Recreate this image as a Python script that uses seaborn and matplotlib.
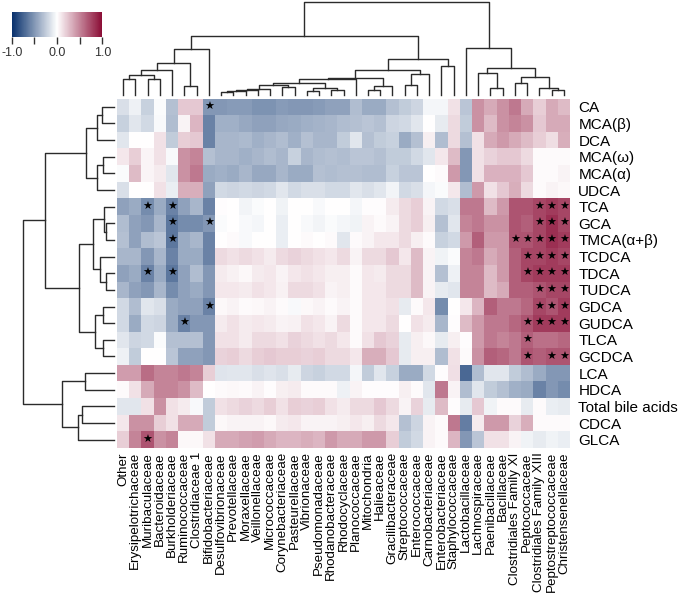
import numpy as np
import pandas as pd
import matplotlib
matplotlib.use("Agg")
import matplotlib.pyplot as plt
import seaborn as sns
from matplotlib.colors import LinearSegmentedColormap

plt.rcParams['font.family'] = ['Liberation Sans', 'DejaVu Sans']
plt.rcParams['axes.unicode_minus'] = False

# column order as shown (left -> right)
families = ["Other", "Erysipelotrichaceae", "Muribaculaceae", "Bacteroidaceae",
            "Burkholderiaceae", "Ruminococcaceae", "Clostridiaceae 1", "Bifidobacteriaceae",
            "Desulfovibrionaceae", "Prevotellaceae", "Moraxellaceae", "Veillonellaceae",
            "Micrococcaceae", "Corynebacteriaceae", "Pasteurellaceae", "Vibrionaceae",
            "Pseudomonadaceae", "Rhodanobacteraceae", "Rhodocyclaceae", "Planococcaceae",
            "Mitochondria", "Halieaceae", "Gracilibacteraceae", "Streptococcaceae",
            "Enterococcaceae", "Carnobacteriaceae", "Enterobacteriaceae", "Staphylococcaceae",
            "Lactobacillaceae", "Lachnospiraceae", "Paenibacillaceae", "Bacillaceae",
            "Clostridiales Family XI", "Peptococcaceae", "Clostridiales Family XIII",
            "Peptostreptococcaceae", "Christensenellaceae"]

# row order as shown (top -> bottom)
bile_acids = ["CA", "MCA(β)", "DCA", "MCA(ω)", "MCA(α)", "UDCA", "TCA", "GCA",
              "TMCA(α+β)", "TCDCA", "TDCA", "TUDCA", "GDCA", "GUDCA", "TLCA", "GCDCA",
              "LCA", "HDCA", "Total bile acids", "CDCA", "GLCA"]

# correlation coefficients, one list per bile acid
r_ca = [-0.15, -0.07, -0.22, -0.02, -0.3, 0.22, 0.22, -0.5,
        -0.5, -0.48, -0.48, -0.52, -0.52, -0.48, -0.5, -0.5, -0.48, -0.45,
        -0.45, -0.32, -0.4, -0.4, -0.3, -0.25, -0.2, -0.04, -0.04, 0.12,
        -0.28, 0.45, 0.35, 0.45, 0.55, 0.35, 0.2, 0.35, 0.28]
r_mca_b = [-0.22, -0.12, -0.18, -0.03, -0.32, 0.05, 0.3, -0.6,
           -0.38, -0.38, -0.42, -0.45, -0.45, -0.42, -0.4, -0.38, -0.36, -0.35,
           -0.32, -0.3, -0.28, -0.3, -0.2, -0.18, -0.12, 0.0, -0.1, 0.15,
           -0.25, 0.45, 0.28, 0.45, 0.5, 0.45, 0.22, 0.35, 0.35]
r_dca = [-0.12, 0.0, 0.0, 0.12, -0.25, 0.2, 0.22, -0.6,
         -0.35, -0.35, -0.33, -0.38, -0.35, -0.32, -0.38, -0.3, -0.35, -0.35,
         -0.25, -0.12, -0.3, -0.25, -0.22, -0.4, -0.3, 0.07, -0.32, 0.15,
         -0.3, 0.12, 0.35, 0.42, 0.35, 0.28, 0.2, 0.14, 0.33]
r_mca_w = [0.1, 0.2, 0.04, 0.12, -0.03, 0.45, 0.5, -0.3,
           -0.35, -0.35, -0.38, -0.35, -0.32, -0.35, -0.22, -0.35, -0.32, -0.3,
           -0.32, -0.28, -0.28, -0.3, -0.25, -0.25, -0.18, -0.12, 0.1, 0.28,
           -0.5, 0.12, 0.18, 0.22, 0.22, 0.15, 0.02, 0.02, 0.02]
r_mca_a = [-0.02, 0.28, 0.04, 0.08, -0.12, 0.45, 0.55, -0.4,
           -0.38, -0.4, -0.35, -0.42, -0.42, -0.35, -0.4, -0.4, -0.3, -0.32,
           -0.3, -0.3, -0.32, -0.32, -0.22, -0.28, -0.28, 0.0, 0.02, 0.42,
           -0.5, 0.12, 0.32, 0.32, 0.32, 0.22, 0.02, 0.02, 0.05]
r_udca = [-0.15, 0.0, 0.0, 0.12, -0.08, 0.33, 0.33, -0.45,
          -0.18, -0.2, -0.18, -0.2, -0.18, -0.12, -0.18, -0.15, -0.15, -0.18,
          -0.18, -0.12, -0.15, -0.12, -0.05, -0.18, -0.15, -0.04, -0.02, 0.1,
          -0.32, 0.42, 0.12, 0.22, 0.33, 0.15, 0.02, 0.05, 0.03]
r_tca = [-0.45, -0.4, -0.55, -0.4, -0.6, -0.45, -0.35, -0.6,
         0.01, 0.0, -0.05, -0.02, 0.0, -0.06, 0.0, 0.0, -0.03, 0.0,
         0.0, -0.04, 0.01, 0.01, 0.08, 0.15, 0.2, 0.05, -0.18, -0.15,
         0.55, 0.55, 0.28, 0.42, 0.7, 0.7, 0.75, 0.8, 0.75]
r_gca = [-0.32, -0.45, -0.5, -0.35, -0.65, -0.55, -0.55, -0.5,
         -0.02, 0.0, -0.03, -0.04, 0.0, -0.08, 0.0, -0.03, -0.05, -0.02,
         -0.04, -0.06, 0.05, 0.02, 0.05, 0.15, 0.2, 0.07, -0.3, -0.12,
         0.5, 0.55, 0.45, 0.45, 0.7, 0.65, 0.75, 0.85, 0.75]
r_tmca = [-0.3, -0.45, -0.32, -0.28, -0.65, -0.4, -0.35, -0.6,
          0.0, 0.02, -0.03, 0.0, 0.0, -0.08, 0.0, 0.02, 0.0, 0.02,
          -0.12, 0.02, 0.05, 0.1, 0.1, 0.15, 0.07, 0.02, -0.22, -0.18,
          0.42, 0.65, 0.42, 0.42, 0.7, 0.7, 0.75, 0.85, 0.8]
r_tcdca = [-0.35, -0.35, -0.5, -0.35, -0.6, -0.4, -0.4, -0.6,
           0.15, 0.12, 0.15, 0.12, 0.08, 0.15, 0.18, 0.15, 0.12, 0.1,
           0.15, 0.05, 0.15, 0.15, 0.22, 0.1, 0.28, 0.05, -0.06, -0.02,
           0.5, 0.55, 0.35, 0.42, 0.65, 0.75, 0.75, 0.8, 0.75]
r_tdca = [-0.45, -0.4, -0.6, -0.4, -0.65, -0.45, -0.32, -0.5,
          0.08, 0.06, 0.03, 0.08, 0.1, 0.05, 0.1, 0.12, 0.1, 0.07,
          0.07, 0.02, 0.1, 0.08, 0.15, 0.15, 0.28, 0.05, -0.3, -0.07,
          0.5, 0.5, 0.28, 0.42, 0.65, 0.75, 0.8, 0.8, 0.8]
r_tudca = [-0.35, -0.45, -0.5, -0.35, -0.55, -0.45, -0.4, -0.5,
           0.1, 0.1, 0.08, 0.12, 0.1, 0.06, 0.15, 0.15, 0.12, 0.05,
           0.07, 0.02, 0.1, 0.1, 0.15, 0.15, 0.28, 0.05, -0.1, -0.12,
           0.5, 0.5, 0.28, 0.35, 0.65, 0.65, 0.7, 0.75, 0.75]
r_gdca = [-0.18, -0.32, -0.12, -0.15, -0.4, -0.45, -0.45, -0.6,
          0.03, 0.05, 0.02, 0.03, 0.05, 0.02, -0.03, 0.03, 0.05, 0.02,
          0.05, 0.02, 0.1, 0.1, 0.12, -0.1, 0.02, 0.1, -0.55, 0.0,
          0.1, 0.3, 0.65, 0.55, 0.55, 0.62, 0.75, 0.7, 0.8]
r_gudca = [-0.18, -0.4, -0.18, -0.2, -0.4, -0.6, -0.5, -0.5,
           0.08, 0.12, 0.08, 0.1, 0.08, 0.05, 0.06, 0.12, 0.1, 0.05,
           0.15, 0.02, 0.1, 0.1, 0.15, 0.0, 0.12, 0.08, -0.35, 0.01,
           0.28, 0.42, 0.55, 0.55, 0.62, 0.7, 0.8, 0.8, 0.8]
r_tlca = [-0.12, -0.2, -0.18, -0.02, -0.3, -0.3, -0.3, -0.5,
          0.12, 0.12, 0.08, 0.15, 0.15, 0.12, 0.18, 0.15, 0.12, 0.15,
          0.1, 0.02, 0.12, 0.22, 0.18, -0.1, 0.07, 0.03, -0.1, 0.07,
          0.01, 0.42, 0.55, 0.5, 0.55, 0.65, 0.58, 0.58, 0.62]
r_gcdca = [-0.07, -0.25, 0.0, 0.0, -0.28, -0.45, -0.45, -0.5,
           0.18, 0.2, 0.15, 0.2, 0.22, 0.2, 0.2, 0.18, 0.2, 0.15,
           0.15, 0.1, 0.33, 0.33, 0.22, -0.1, 0.07, 0.07, -0.32, 0.12,
           0.02, 0.45, 0.65, 0.62, 0.55, 0.7, 0.65, 0.7, 0.7]
r_lca = [0.4, 0.4, 0.6, 0.5, 0.5, 0.55, 0.5, 0.2,
         -0.13, -0.12, -0.12, -0.15, -0.13, -0.15, -0.1, -0.2, -0.22, -0.18,
         -0.18, -0.04, -0.25, -0.12, -0.22, -0.4, -0.4, -0.18, 0.01, 0.13,
         -0.72, -0.32, -0.12, -0.12, -0.25, -0.32, -0.4, -0.5, -0.5]
r_hdca = [0.02, 0.12, 0.35, 0.5, 0.5, 0.45, 0.28, 0.0,
          0.02, 0.03, 0.02, 0.05, 0.01, 0.07, 0.08, 0.02, 0.02, 0.02,
          -0.07, 0.05, 0.01, 0.01, 0.01, 0.07, 0.02, -0.12, 0.55, 0.05,
          -0.32, -0.12, -0.25, -0.3, -0.38, -0.4, -0.6, -0.5, -0.55]
r_total = [-0.12, -0.12, 0.12, 0.45, 0.12, 0.08, -0.03, -0.25,
           0.12, 0.15, 0.18, 0.15, 0.2, 0.12, 0.2, 0.18, 0.2, 0.12,
           0.08, 0.15, 0.15, 0.22, 0.15, 0.05, 0.18, -0.1, 0.28, 0.01,
           -0.1, 0.22, -0.06, 0.02, 0.02, -0.1, 0.02, -0.08, -0.1]
r_cdca = [0.1, 0.45, 0.45, 0.2, 0.12, 0.35, 0.35, -0.25,
          0.03, 0.05, 0.05, 0.05, 0.03, 0.08, 0.1, 0.05, 0.05, 0.05,
          0.07, 0.1, 0.07, 0.15, 0.1, -0.3, -0.2, 0.05, 0.02, 0.55,
          -0.62, 0.08, 0.42, 0.42, 0.18, 0.33, 0.02, 0.02, 0.02]
r_glca = [0.2, 0.5, 0.7, 0.45, 0.5, 0.03, 0.03, 0.12,
          0.35, 0.35, 0.38, 0.4, 0.35, 0.3, 0.3, 0.33, 0.3, 0.42,
          0.35, 0.35, 0.42, 0.42, 0.2, -0.25, -0.18, 0.05, 0.02, 0.3,
          -0.5, -0.28, 0.12, 0.12, 0.05, -0.06, -0.1, -0.06, -0.08]

# significant pairs
stars = {
    "CA": ["Bifidobacteriaceae"],
    "TCA": ["Muribaculaceae", "Burkholderiaceae", "Clostridiales Family XIII",
            "Peptostreptococcaceae", "Christensenellaceae"],
    "GCA": ["Burkholderiaceae", "Bifidobacteriaceae", "Clostridiales Family XIII",
            "Peptostreptococcaceae", "Christensenellaceae"],
    "TMCA(α+β)": ["Burkholderiaceae", "Clostridiales Family XI", "Peptococcaceae",
                  "Clostridiales Family XIII", "Peptostreptococcaceae", "Christensenellaceae"],
    "TCDCA": ["Peptococcaceae", "Clostridiales Family XIII", "Peptostreptococcaceae",
              "Christensenellaceae"],
    "TDCA": ["Muribaculaceae", "Burkholderiaceae", "Peptococcaceae",
             "Clostridiales Family XIII", "Peptostreptococcaceae", "Christensenellaceae"],
    "TUDCA": ["Clostridiales Family XIII", "Peptostreptococcaceae", "Christensenellaceae"],
    "GDCA": ["Bifidobacteriaceae", "Clostridiales Family XIII", "Peptostreptococcaceae",
             "Christensenellaceae"],
    "GUDCA": ["Ruminococcaceae", "Peptococcaceae", "Clostridiales Family XIII",
              "Peptostreptococcaceae", "Christensenellaceae"],
    "TLCA": ["Peptococcaceae"],
    "GCDCA": ["Peptococcaceae", "Peptostreptococcaceae", "Christensenellaceae"],
    "GLCA": ["Muribaculaceae"],
}

# dendrogram merges (child a, child b, height); new node ids follow the leaves
col_links = [(0, 1, 0.170), (2, 3, 0.170), (37, 38, 0.215), (39, 4, 0.265),
             (5, 6, 0.099), (40, 41, 0.347), (42, 7, 0.498),
             (8, 9, 0.035), (44, 10, 0.046), (45, 11, 0.056), (46, 12, 0.069),
             (13, 14, 0.082), (47, 48, 0.106), (15, 16, 0.039), (17, 18, 0.056),
             (50, 51, 0.071), (49, 52, 0.124), (53, 19, 0.175), (20, 21, 0.056),
             (55, 22, 0.099), (54, 56, 0.180), (23, 24, 0.111), (58, 25, 0.226),
             (57, 59, 0.265), (26, 27, 0.311), (60, 61, 0.389), (43, 62, 0.629),
             (30, 31, 0.071), (29, 64, 0.241), (32, 33, 0.124), (35, 36, 0.056),
             (34, 67, 0.071), (66, 68, 0.188), (65, 69, 0.294), (28, 70, 0.506),
             (63, 71, 1.0)]
row_links = [(0, 1, 0.135), (21, 2, 0.189), (3, 4, 0.117), (23, 5, 0.189),
             (22, 24, 0.307), (7, 8, 0.088), (6, 26, 0.106), (10, 11, 0.088),
             (9, 28, 0.153), (27, 29, 0.227), (12, 13, 0.117), (14, 15, 0.117),
             (31, 32, 0.208), (30, 33, 0.380), (25, 34, 0.756), (16, 17, 0.318),
             (18, 19, 0.354), (37, 20, 0.391), (36, 38, 0.573), (35, 39, 1.0)]


def draw_tree(ax, links, n, side):
    pos = [i + 0.5 for i in range(n)]
    hgt = [0.0] * n
    for a, b, h in links:
        xs = [pos[a], pos[a], pos[b], pos[b]]
        ys = [hgt[a], h, h, hgt[b]]
        if side == 'top':
            ax.plot(xs, ys, color='#2b2b2b', lw=1.0, clip_on=False)
        else:
            ax.plot(ys, xs, color='#2b2b2b', lw=1.0, clip_on=False)
        pos.append((pos[a] + pos[b]) / 2)
        hgt.append(h)
    ax.axis('off')


rows = [r_ca, r_mca_b, r_dca, r_mca_w, r_mca_a, r_udca, r_tca, r_gca, r_tmca,
        r_tcdca, r_tdca, r_tudca, r_gdca, r_gudca, r_tlca, r_gcdca, r_lca, r_hdca,
        r_total, r_cdca, r_glca]
df = pd.DataFrame(rows, index=bile_acids, columns=families)

star_text = pd.DataFrame("", index=bile_acids, columns=families)
for ba, fams in stars.items():
    for f in fams:
        star_text.loc[ba, f] = "★"

cmap = LinearSegmentedColormap.from_list('corr', ['#062f6b', '#ffffff', '#8a0b34'])

W, H = 685, 599


def box(x0, y0, x1, y1):
    return [x0 / W, 1 - y1 / H, (x1 - x0) / W, (y1 - y0) / H]


fig = plt.figure(figsize=(W / 100, H / 100), dpi=100)
ax_heat = fig.add_axes(box(117, 98.5, 570, 448))
ax_col = fig.add_axes(box(117, 1.7, 570, 95))
ax_row = fig.add_axes(box(22.7, 98.5, 114, 448))
ax_cbar = fig.add_axes(box(11.7, 11.7, 102.3, 37.3))

sns.heatmap(df, ax=ax_heat, cmap=cmap, vmin=-1, vmax=1,
            annot=star_text.values, fmt='',
            annot_kws={'color': 'black', 'fontsize': 8, 'family': ['DejaVu Sans']},
            cbar_ax=ax_cbar,
            cbar_kws={'orientation': 'horizontal', 'ticks': [-1, -0.5, 0, 0.5, 1]},
            xticklabels=True, yticklabels=True)

ax_heat.yaxis.tick_right()
ax_heat.set_yticks(np.arange(len(bile_acids)) + 0.5)
ax_heat.set_yticklabels(bile_acids, rotation=0)
ax_heat.set_xticks(np.arange(len(families)) + 0.5)
ax_heat.set_xticklabels(families, rotation=90)
ax_heat.tick_params(axis='both', length=0)
ax_heat.tick_params(axis='y', pad=6, labelsize=11)
ax_heat.tick_params(axis='x', pad=3, labelsize=9.6)
ax_heat.set_xlabel('')
ax_heat.set_ylabel('')

cb = ax_heat.collections[0].colorbar
cb.set_ticklabels(['-1.0', '', '0.0', '', '1.0'])
cb.outline.set_visible(False)
ax_cbar.tick_params(length=5, width=1, labelsize=9, colors='#333333', pad=2)

ax_col.set_xlim(0, len(families))
ax_col.set_ylim(0, 1)
draw_tree(ax_col, col_links, len(families), 'top')

ax_row.set_ylim(len(bile_acids), 0)
ax_row.set_xlim(1, 0)
draw_tree(ax_row, row_links, len(bile_acids), 'left')

fig.savefig('out.png', dpi=100)
